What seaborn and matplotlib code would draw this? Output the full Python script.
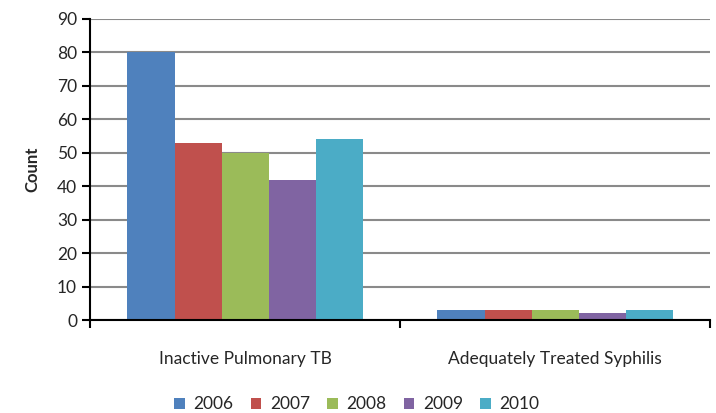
import pandas as pd
import matplotlib.pyplot as plt
import seaborn as sns

# Chart data
categories = ['Inactive Pulmonary TB', 'Adequately Treated Syphilis']
years = ['2006', '2007', '2008', '2009', '2010']
tb_counts = [80, 53, 50, 42, 54]
syphilis_counts = [3, 3, 3, 2, 3]
colors = ['#4F81BD', '#C0504D', '#9BBB59', '#8064A2', '#4BACC6']

rows = []
for cat, vals in zip(categories, [tb_counts, syphilis_counts]):
    for yr, v in zip(years, vals):
        rows.append({'Category': cat, 'Year': yr, 'Count': v})
df = pd.DataFrame(rows)

sns.set_style('white')
plt.rcParams['font.family'] = ['Lato', 'DejaVu Sans']

fig = plt.figure(figsize=(7.16, 4.13), dpi=100)
ax = fig.add_axes([0.126, 0.225, 0.866, 0.729])

sns.barplot(data=df, x='Category', y='Count', hue='Year', order=categories,
            hue_order=years, palette=colors, width=0.76, saturation=1,
            linewidth=0, ax=ax, legend=True)

ax.set_ylim(0, 90)
ax.set_xlim(-0.5, 1.5)
ax.set_yticks(range(0, 91, 10))
ax.yaxis.grid(True, color='#8A8A8A', linewidth=1.5)
ax.set_axisbelow(True)

# category labels centred, tick marks at the category boundaries
ax.set_xticks([0, 1])
ax.set_xticklabels(categories, fontsize=12.5)
ax.tick_params(axis='x', which='major', length=0, pad=22)
ax.set_xticks([-0.5, 0.5, 1.5], minor=True)
ax.tick_params(axis='x', which='minor', bottom=True, length=6, width=1.5,
               direction='out', color='black')
ax.tick_params(axis='y', length=6, width=1.5, direction='out', color='black',
               labelsize=12.5, left=True)

for side in ['top', 'right']:
    ax.spines[side].set_visible(False)
for side in ['left', 'bottom']:
    ax.spines[side].set_color('black')
    ax.spines[side].set_linewidth(1.5)

ax.set_xlabel('')
ax.set_ylabel('Count', fontsize=12, fontweight='bold', labelpad=12)

ax.legend(loc='center', bbox_to_anchor=(0.43, -0.28), ncol=5, frameon=False,
          fontsize=12.5, handlelength=0.6, handleheight=0.6, handletextpad=0.5,
          columnspacing=1.0)

fig.savefig('out.png', dpi=100)
